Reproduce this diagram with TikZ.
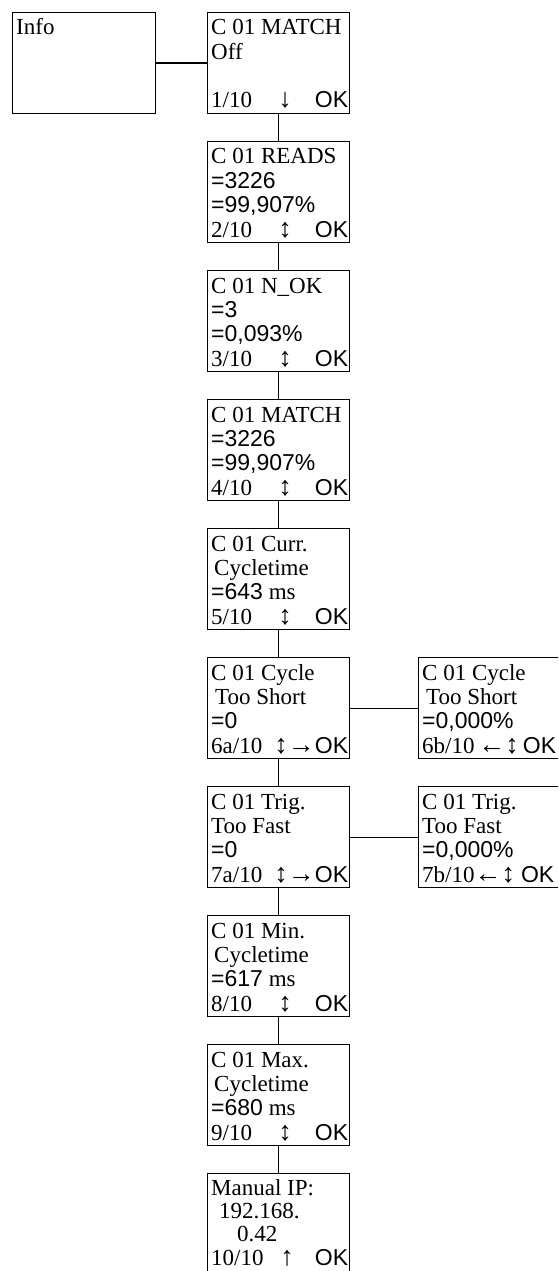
\documentclass[tikz,border=0pt]{standalone}
\usepackage{fontspec}
\setmainfont{Liberation Serif}
\newfontfamily\sansf{Liberation Sans}
\usetikzlibrary{calc}
\tikzset{
  screen/.style={draw=black, line width=1.3pt, rectangle, anchor=north west,
    minimum width=142pt, minimum height=101pt, inner sep=0pt},
  txt/.style={anchor=base west, inner sep=0pt, font=\fontsize{23}{24}\selectfont},
  link/.style={draw=black, line width=1.3pt}
}
\newcommand\arr[1]{{\fontsize{27}{24}\selectfont\sansf #1}}
\newcommand\scrlines[5]{%
  \node[txt] (#1-a) at ($(#1.north west)+(4,23)$) {#2};
  \node[txt] (#1-b) at ($(#1.north west)+(4,47.3)$) {#3};
  \node[txt] (#1-c) at ($(#1.north west)+(4,71.6)$) {#4};
  \node[txt] (#1-d) at ($(#1.north west)+(4,96)$) {#5};
}
\newcommand\scrok[3]{%
  \node[txt,anchor=base] (#1-arr) at ($(#1.north west)+(#3,96)$) {\arr{#2}};
  \node[txt,anchor=base east] (#1-ok) at ($(#1.north east)+(-2,96)$) {\sansf OK};
}
\begin{document}
\begin{tikzpicture}[x=1pt,y=-1pt]
\useasboundingbox (0,0) rectangle (558,1271);
\clip (0,0) rectangle (558,1271);
\fill[white] (0,0) rectangle (558,1271);

% Info box
\node[screen, minimum width=143pt] (info) at (12,12) {};
\node[txt] (info-a) at ($(info.north west)+(4,23)$) {Info};

% main column
\node[screen] (b1) at (207,12) {};
\node[screen] (b2) at (207,141) {};
\node[screen] (b3) at (207,270) {};
\node[screen] (b4) at (207,399) {};
\node[screen] (b5) at (207,528) {};
\node[screen] (b6) at (207,657) {};
\node[screen] (b7) at (207,786) {};
\node[screen] (b8) at (207,915) {};
\node[screen] (b9) at (207,1044) {};
\node[screen] (b10) at (207,1173) {};
% right column
\node[screen] (r6) at (418,657) {};
\node[screen] (r7) at (418,786) {};

\scrlines{b1}{C 01 MATCH}{Off}{}{1/10}
\scrok{b1}{↓}{78}
\scrlines{b2}{C 01 READS}{\sansf =3226}{\sansf =99,907\%}{2/10}
\scrok{b2}{↕}{78}
\scrlines{b3}{C 01 N\_OK}{\sansf =3}{\sansf =0,093\%}{3/10}
\scrok{b3}{↕}{78}
\scrlines{b4}{C 01 MATCH}{\sansf =3226}{\sansf =99,907\%}{4/10}
\scrok{b4}{↕}{78}
\scrlines{b5}{C 01 Curr.}{\hspace*{3pt}Cycletime}{{\sansf =643} ms}{5/10}
\scrok{b5}{↕}{78}
\scrlines{b6}{C 01 Cycle}{\hspace*{4pt}Too Short}{\sansf =0}{6a/10}
\node[txt,anchor=base east] (b6-ok) at ($(b6.north east)+(-2,96)$) {\arr{↕→}\sansf OK};
\scrlines{b7}{C 01 Trig.}{Too Fast}{\sansf =0}{7a/10}
\node[txt,anchor=base east] (b7-ok) at ($(b7.north east)+(-2,96)$) {\arr{↕→}\sansf OK};
\scrlines{b8}{C 01 Min.}{\hspace*{3pt}Cycletime}{{\sansf =617} ms}{8/10}
\scrok{b8}{↕}{78}
\scrlines{b9}{C 01 Max.}{\hspace*{3pt}Cycletime}{{\sansf =680} ms}{9/10}
\scrok{b9}{↕}{78}
\node[txt] (b10-a) at ($(b10.north west)+(4,22)$) {Manual IP:};
\node[txt] (b10-b) at ($(b10.north west)+(4,45)$) {\hspace*{8pt}192.168.};
\node[txt] (b10-c) at ($(b10.north west)+(4,68)$) {\hspace*{26pt}0.42};
\node[txt] (b10-d) at ($(b10.north west)+(4,92)$) {10/10};
\node[txt,anchor=base] (b10-arr) at ($(b10.north west)+(80,92)$) {\arr{↑}};
\node[txt,anchor=base east] (b10-ok) at ($(b10.north east)+(-2,92)$) {\sansf OK};

\scrlines{r6}{C 01 Cycle}{\hspace*{4pt}Too Short}{\sansf =0,000\%}{6b/10\,\arr{←↕}\hspace{4pt}\sansf OK}
\scrlines{r7}{C 01 Trig.}{Too Fast}{\sansf =0,000\%}{7b/10\arr{←↕}\hspace{6pt}\sansf OK}

% connectors
\draw[link] (info.east) -- (b1.west);
\foreach \i/\j in {1/2,2/3,3/4,4/5,5/6,6/7,7/8,8/9,9/10}
  \draw[link] (b\i.south) -- (b\j.north);
\draw[link] (b6.east) -- (r6.west);
\draw[link] (b7.east) -- (r7.west);
\end{tikzpicture}
\end{document}
